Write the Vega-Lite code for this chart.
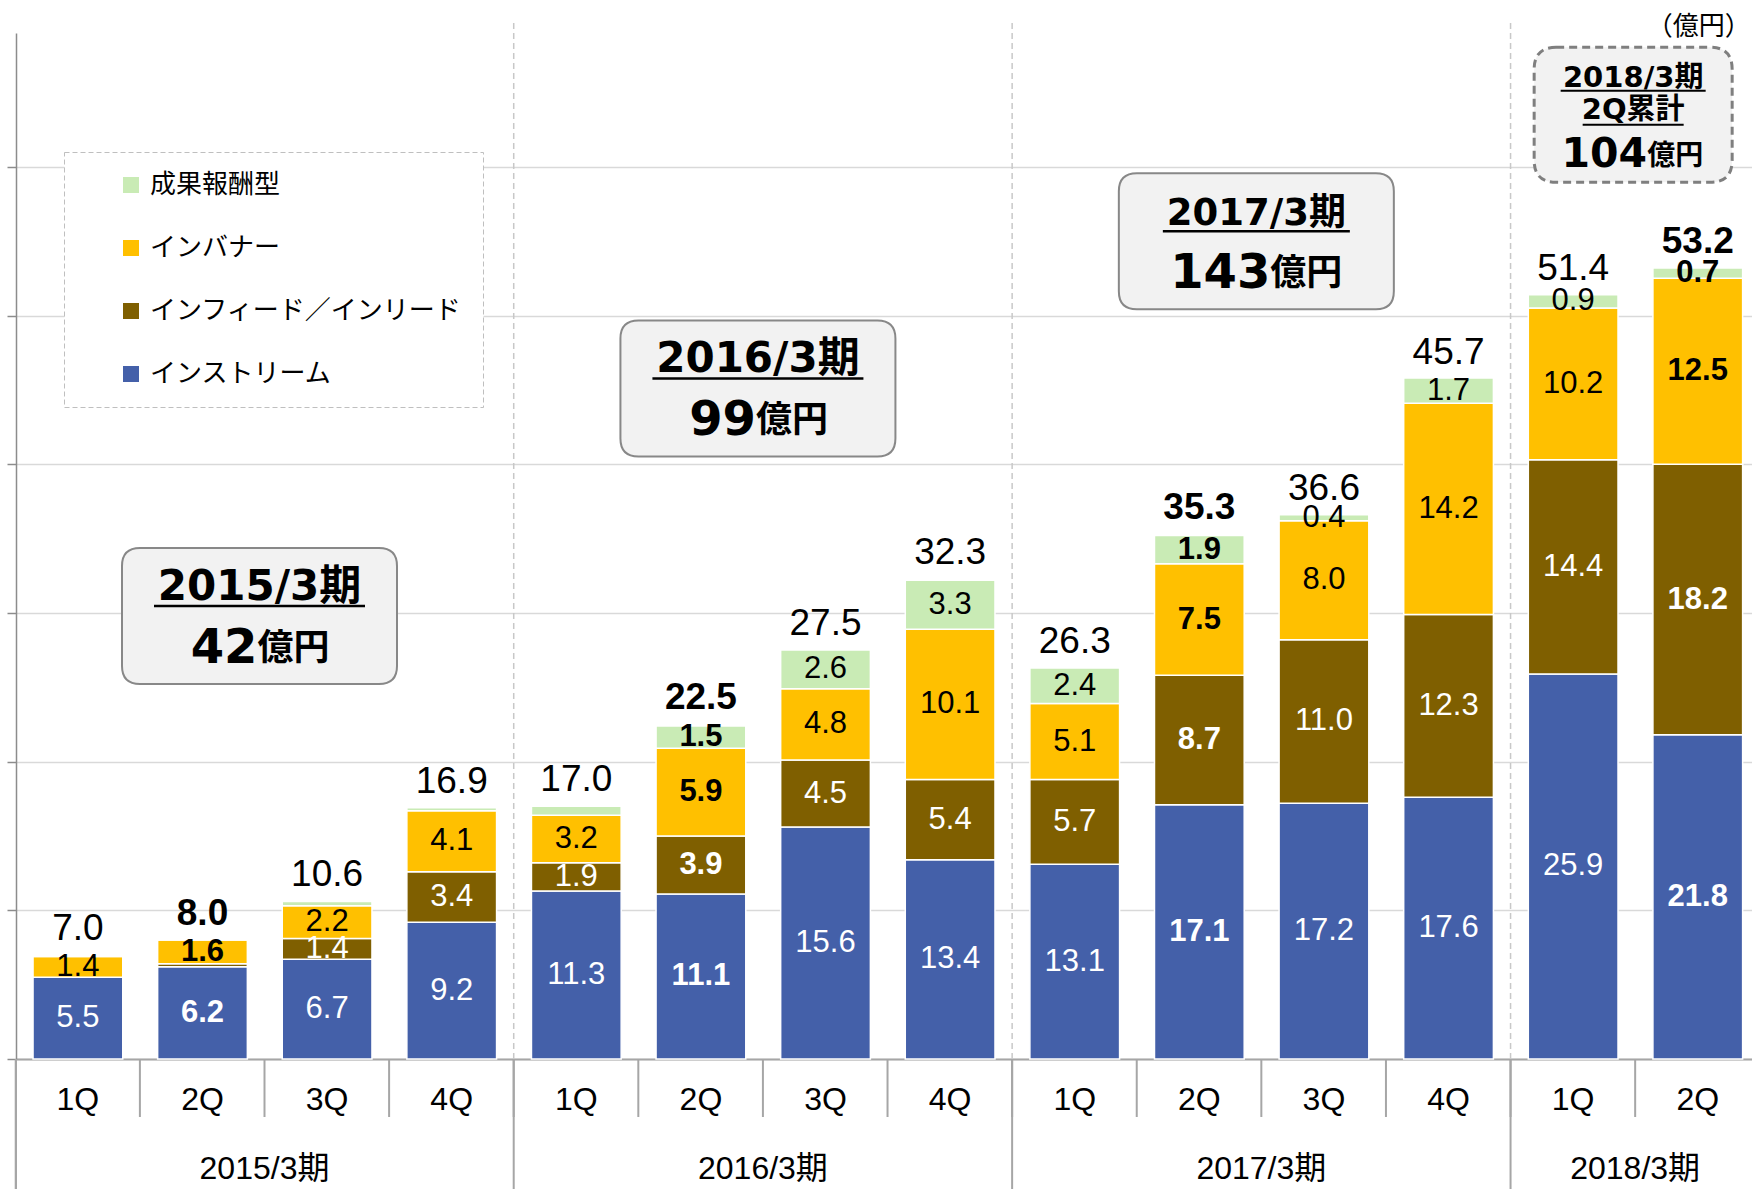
{
  "$schema": "https://vega.github.io/schema/vega-lite/v6.json",
  "width": 1736,
  "height": 1026,
  "autosize": {"type": "none"},
  "padding": {"left": 16, "top": 33, "right": 0, "bottom": 130},
  "config": {"view": {"stroke": null}, "axis": {"labelFont": "Liberation Sans"}, "legend": {"strokeDash": [5, 3]}},
  "datasets": {
    "q": [
      {"k": "2015/3期 1Q", "インストリーム": 5.5, "インフィード／インリード": 0.0, "インバナー": 1.4, "成果報酬型": 0.1},
      {"k": "2015/3期 2Q", "インストリーム": 6.2, "インフィード／インリード": 0.2, "インバナー": 1.6, "成果報酬型": 0.0},
      {"k": "2015/3期 3Q", "インストリーム": 6.7, "インフィード／インリード": 1.4, "インバナー": 2.2, "成果報酬型": 0.3},
      {"k": "2015/3期 4Q", "インストリーム": 9.2, "インフィード／インリード": 3.4, "インバナー": 4.1, "成果報酬型": 0.2},
      {"k": "2016/3期 1Q", "インストリーム": 11.3, "インフィード／インリード": 1.9, "インバナー": 3.2, "成果報酬型": 0.6},
      {"k": "2016/3期 2Q", "インストリーム": 11.1, "インフィード／インリード": 3.9, "インバナー": 5.9, "成果報酬型": 1.5},
      {"k": "2016/3期 3Q", "インストリーム": 15.6, "インフィード／インリード": 4.5, "インバナー": 4.8, "成果報酬型": 2.6},
      {"k": "2016/3期 4Q", "インストリーム": 13.4, "インフィード／インリード": 5.4, "インバナー": 10.1, "成果報酬型": 3.3},
      {"k": "2017/3期 1Q", "インストリーム": 13.1, "インフィード／インリード": 5.7, "インバナー": 5.1, "成果報酬型": 2.4},
      {"k": "2017/3期 2Q", "インストリーム": 17.1, "インフィード／インリード": 8.7, "インバナー": 7.5, "成果報酬型": 1.9},
      {"k": "2017/3期 3Q", "インストリーム": 17.2, "インフィード／インリード": 11.0, "インバナー": 8.0, "成果報酬型": 0.4},
      {"k": "2017/3期 4Q", "インストリーム": 17.6, "インフィード／インリード": 12.3, "インバナー": 14.2, "成果報酬型": 1.7},
      {"k": "2018/3期 1Q", "インストリーム": 25.9, "インフィード／インリード": 14.4, "インバナー": 10.2, "成果報酬型": 0.9},
      {"k": "2018/3期 2Q", "インストリーム": 21.8, "インフィード／インリード": 18.2, "インバナー": 12.5, "成果報酬型": 0.7}
    ],
    "tot": [
      {"k": "2015/3期 1Q", "t": 7.0},
      {"k": "2015/3期 2Q", "t": 8.0},
      {"k": "2015/3期 3Q", "t": 10.6},
      {"k": "2015/3期 4Q", "t": 16.9},
      {"k": "2016/3期 1Q", "t": 17.0},
      {"k": "2016/3期 2Q", "t": 22.5},
      {"k": "2016/3期 3Q", "t": 27.5},
      {"k": "2016/3期 4Q", "t": 32.3},
      {"k": "2017/3期 1Q", "t": 26.3},
      {"k": "2017/3期 2Q", "t": 35.3},
      {"k": "2017/3期 3Q", "t": 36.6},
      {"k": "2017/3期 4Q", "t": 45.7},
      {"k": "2018/3期 1Q", "t": 51.4},
      {"k": "2018/3期 2Q", "t": 53.2}
    ],
    "fy": [
      {"k": "2015/3期 2Q", "fy": "2015/3期"},
      {"k": "2016/3期 2Q", "fy": "2016/3期"},
      {"k": "2017/3期 2Q", "fy": "2017/3期"},
      {"k": "2018/3期 1Q", "fy": "2018/3期"}
    ],
    "sep": [
      {"k": "2015/3期 4Q"},
      {"k": "2016/3期 4Q"},
      {"k": "2017/3期 4Q"}
    ],
    "ann": [
      {"k": "2015/3期 2Q", "y": 29.8, "t": "2015/3期", "n": "42"},
      {"k": "2016/3期 2Q", "y": 45.1, "t": "2016/3期", "n": "99"},
      {"k": "2017/3期 2Q", "y": 55.0, "t": "2017/3期", "n": "143"}
    ],
    "ann18": [
      {"k": "2018/3期 1Q", "y": 63.5, "t1": "2018/3期", "t2": "2Q累計", "n": "104"}
    ],
    "unit": [
      {"k": "2018/3期 2Q", "u": "（億円）"}
    ]
  },
  "layer": [
    {
      "data": {"name": "sep"},
      "mark": {"type": "rule", "xOffset": 62, "color": "#C8C8C8", "strokeWidth": 1.5, "strokeDash": [6, 4]},
      "encoding": {
        "x": {"field": "k", "type": "nominal"},
        "y": {"datum": 0},
        "y2": {"datum": 69.7}
      }
    },
    {
      "data": {"name": "sep"},
      "mark": {"type": "rule", "xOffset": 62, "color": "#A6A6A6", "strokeWidth": 2},
      "encoding": {
        "x": {"field": "k", "type": "nominal"},
        "y": {"datum": -9},
        "y2": {"datum": 0}
      }
    },
    {
      "data": {"name": "sep"},
      "mark": {"type": "rule", "xOffset": -62, "color": "#A6A6A6", "strokeWidth": 2},
      "encoding": {
        "x": {"datum": "2015/3期 1Q"},
        "y": {"datum": -9},
        "y2": {"datum": 0}
      }
    },
    {
      "data": {"name": "tot"},
      "mark": {"type": "rule", "xOffset": 62, "color": "#A6A6A6", "strokeWidth": 2},
      "encoding": {
        "x": {"field": "k", "type": "nominal"},
        "y": {"datum": -3.9},
        "y2": {"datum": 0}
      }
    },
    {
      "data": {"name": "q"},
      "transform": [
        {"fold": ["インストリーム", "インフィード／インリード", "インバナー", "成果報酬型"], "as": ["s", "v"]},
        {"calculate": "indexof(['インストリーム','インフィード／インリード','インバナー','成果報酬型'], datum.s)", "as": "si"},
        {"stack": "v", "groupby": ["k"], "sort": [{"field": "si", "order": "ascending"}], "as": ["v0", "v1"]}
      ],
      "mark": {"type": "bar", "stroke": "#FFFFFF", "strokeWidth": 1.5},
      "encoding": {
        "x": {
          "field": "k", "type": "nominal",
          "scale": {"paddingInner": 0.28, "paddingOuter": 0.106, "align": 0.645},
          "axis": {
            "title": null, "labelExpr": "substring(datum.label, 8)", "labelAngle": 0, "labelAlign": "center",
            "labelFont": "Liberation Sans", "labelFontSize": 32, "labelColor": "#000000",
            "labelPadding": 25, "labelBaseline": "top", "labelOverlap": false,
            "ticks": false, "tickSize": 0,
            "domainColor": "#A6A6A6", "domainWidth": 2, "grid": false
          }
        },
        "y": {
          "field": "v1", "type": "quantitative",
          "scale": {"domain": [0, 69], "nice": false, "zero": true},
          "axis": {
            "title": null, "labels": false, "values": [0, 10, 20, 30, 40, 50, 60],
            "tickSize": 9, "tickColor": "#8C8C8C", "tickWidth": 1.5,
            "domainColor": "#8C8C8C", "domainWidth": 1.5,
            "grid": true, "gridColor": "#D9D9D9", "gridWidth": 1.5
          }
        },
        "y2": {"field": "v0"},
        "color": {
          "field": "s", "type": "nominal",
          "scale": {
            "domain": ["成果報酬型", "インバナー", "インフィード／インリード", "インストリーム"],
            "range": ["#C9EBB5", "#FFC000", "#7F5F00", "#4460A9"]
          },
          "legend": {
            "orient": "none", "legendX": 48, "legendY": 119, "title": null,
            "symbolType": "square", "symbolSize": 256, "symbolStrokeWidth": 0, "symbolOpacity": 1,
            "symbolOffset": 34, "labelOffset": 6,
            "labelFont": "Noto Sans CJK JP", "labelFontSize": 26, "labelColor": "#000000",
            "labelLimit": 500, "labelExpr": "datum.label + '　　'",
            "rowPadding": 37, "padding": 20,
            "strokeColor": "#BFBFBF", "fillColor": "#FFFFFF"
          }
        }
      }
    },
    {
      "data": {"name": "q"},
      "transform": [
        {"fold": ["インストリーム", "インフィード／インリード", "インバナー", "成果報酬型"], "as": ["s", "v"]},
        {"calculate": "indexof(['インストリーム','インフィード／インリード','インバナー','成果報酬型'], datum.s)", "as": "si"},
        {"stack": "v", "groupby": ["k"], "sort": [{"field": "si", "order": "ascending"}], "as": ["v0", "v1"]},
        {"filter": "datum.v >= 0.35 && !(datum.k == '2016/3期 1Q' && datum.s == '成果報酬型') && indexof(datum.k, '2Q') < 0"},
        {"calculate": "(datum.v0 + datum.v1) / 2", "as": "mid"}
      ],
      "mark": {"type": "text", "font": "Liberation Sans", "fontSize": 31, "baseline": "middle", "align": "center"},
      "encoding": {
        "x": {"field": "k", "type": "nominal"},
        "y": {"field": "mid", "type": "quantitative"},
        "text": {"field": "v", "type": "quantitative", "format": ".1f"},
        "color": {"condition": {"test": "datum.si < 2", "value": "#FFFFFF"}, "value": "#000000"}
      }
    },
    {
      "data": {"name": "q"},
      "transform": [
        {"fold": ["インストリーム", "インフィード／インリード", "インバナー", "成果報酬型"], "as": ["s", "v"]},
        {"calculate": "indexof(['インストリーム','インフィード／インリード','インバナー','成果報酬型'], datum.s)", "as": "si"},
        {"stack": "v", "groupby": ["k"], "sort": [{"field": "si", "order": "ascending"}], "as": ["v0", "v1"]},
        {"filter": "datum.v >= 0.35 && indexof(datum.k, '2Q') >= 0"},
        {"calculate": "(datum.v0 + datum.v1) / 2", "as": "mid"}
      ],
      "mark": {"type": "text", "font": "Liberation Sans", "fontSize": 31, "fontWeight": "bold", "baseline": "middle", "align": "center"},
      "encoding": {
        "x": {"field": "k", "type": "nominal"},
        "y": {"field": "mid", "type": "quantitative"},
        "text": {"field": "v", "type": "quantitative", "format": ".1f"},
        "color": {"condition": {"test": "datum.si < 2", "value": "#FFFFFF"}, "value": "#000000"}
      }
    },
    {
      "data": {"name": "tot"},
      "transform": [{"filter": "indexof(datum.k, '2Q') < 0"}],
      "mark": {"type": "text", "font": "Liberation Sans", "fontSize": 37, "baseline": "alphabetic", "align": "center", "dy": -15, "color": "#000000"},
      "encoding": {
        "x": {"field": "k", "type": "nominal"},
        "y": {"field": "t", "type": "quantitative"},
        "text": {"field": "t", "type": "quantitative", "format": ".1f"}
      }
    },
    {
      "data": {"name": "tot"},
      "transform": [{"filter": "indexof(datum.k, '2Q') >= 0"}],
      "mark": {"type": "text", "font": "Liberation Sans", "fontSize": 37, "fontWeight": "bold", "baseline": "alphabetic", "align": "center", "dy": -15, "color": "#000000"},
      "encoding": {
        "x": {"field": "k", "type": "nominal"},
        "y": {"field": "t", "type": "quantitative"},
        "text": {"field": "t", "type": "quantitative", "format": ".1f"}
      }
    },
    {
      "data": {"name": "fy"},
      "mark": {"type": "text", "font": "Liberation Sans, Noto Sans CJK JP", "fontSize": 32, "baseline": "middle", "align": "center", "dx": 62, "color": "#000000"},
      "encoding": {
        "x": {"field": "k", "type": "nominal"},
        "y": {"datum": -7.4},
        "text": {"field": "fy"}
      }
    },
    {
      "data": {"name": "unit"},
      "mark": {"type": "text", "font": "Noto Sans CJK JP", "fontSize": 26, "baseline": "middle", "align": "right", "dx": 53, "color": "#000000"},
      "encoding": {
        "x": {"field": "k", "type": "nominal"},
        "y": {"datum": 69.4},
        "text": {"field": "u"}
      }
    },
    {
      "data": {"name": "ann"},
      "mark": {"type": "point", "shape": "M-11.95,-6.8 L11.95,-6.8 Q13.75,-6.8 13.75,-5 L13.75,5 Q13.75,6.8 11.95,6.8 L-11.95,6.8 Q-13.75,6.8 -13.75,5 L-13.75,-5 Q-13.75,-6.8 -11.95,-6.8 Z", "size": 400, "filled": true, "fill": "#F2F2F2", "stroke": "#888888", "strokeWidth": 2, "opacity": 1, "xOffset": 57},
      "encoding": {
        "x": {"field": "k", "type": "nominal"},
        "y": {"field": "y", "type": "quantitative"}
      }
    },
    {
      "data": {"name": "ann"},
      "transform": [{"filter": "length(datum.n) == 2"}],
      "mark": {"type": "text", "font": "DejaVu Sans, Noto Sans CJK JP", "fontSize": 42, "fontWeight": "bold", "baseline": "alphabetic", "align": "center", "dx": 57, "dy": -16, "color": "#000000"},
      "encoding": {
        "x": {"field": "k", "type": "nominal"},
        "y": {"field": "y", "type": "quantitative"},
        "text": {"field": "t"}
      }
    },
    {
      "data": {"name": "ann"},
      "transform": [{"filter": "length(datum.n) == 3"}],
      "mark": {"type": "text", "font": "DejaVu Sans, Noto Sans CJK JP", "fontSize": 37, "fontWeight": "bold", "baseline": "alphabetic", "align": "center", "dx": 57, "dy": -16, "color": "#000000"},
      "encoding": {
        "x": {"field": "k", "type": "nominal"},
        "y": {"field": "y", "type": "quantitative"},
        "text": {"field": "t"}
      }
    },
    {
      "data": {"name": "ann"},
      "transform": [{"filter": "length(datum.n) == 2"}],
      "mark": {"type": "point", "shape": "M-1,0 L1,0", "size": 44521, "filled": false, "stroke": "#000000", "strokeWidth": 2.5, "opacity": 1, "xOffset": 57, "yOffset": -10},
      "encoding": {
        "x": {"field": "k", "type": "nominal"},
        "y": {"field": "y", "type": "quantitative"}
      }
    },
    {
      "data": {"name": "ann"},
      "transform": [{"filter": "length(datum.n) == 3"}],
      "mark": {"type": "point", "shape": "M-1,0 L1,0", "size": 34969, "filled": false, "stroke": "#000000", "strokeWidth": 2.5, "opacity": 1, "xOffset": 57, "yOffset": -10},
      "encoding": {
        "x": {"field": "k", "type": "nominal"},
        "y": {"field": "y", "type": "quantitative"}
      }
    },
    {
      "data": {"name": "ann"},
      "transform": [{"filter": "length(datum.n) == 2"}],
      "mark": {"type": "text", "font": "DejaVu Sans", "fontSize": 48, "fontWeight": "bold", "baseline": "alphabetic", "align": "right", "dx": 55, "dy": 47, "color": "#000000"},
      "encoding": {
        "x": {"field": "k", "type": "nominal"},
        "y": {"field": "y", "type": "quantitative"},
        "text": {"field": "n"}
      }
    },
    {
      "data": {"name": "ann"},
      "transform": [{"filter": "length(datum.n) == 3"}],
      "mark": {"type": "text", "font": "DejaVu Sans", "fontSize": 48, "fontWeight": "bold", "baseline": "alphabetic", "align": "right", "dx": 71, "dy": 47, "color": "#000000"},
      "encoding": {
        "x": {"field": "k", "type": "nominal"},
        "y": {"field": "y", "type": "quantitative"},
        "text": {"field": "n"}
      }
    },
    {
      "data": {"name": "ann"},
      "transform": [{"filter": "length(datum.n) == 2"}],
      "mark": {"type": "text", "font": "Noto Sans CJK JP", "fontSize": 36, "fontWeight": "bold", "baseline": "alphabetic", "align": "left", "dx": 55, "dy": 44, "color": "#000000", "text": "億円"},
      "encoding": {
        "x": {"field": "k", "type": "nominal"},
        "y": {"field": "y", "type": "quantitative"}
      }
    },
    {
      "data": {"name": "ann"},
      "transform": [{"filter": "length(datum.n) == 3"}],
      "mark": {"type": "text", "font": "Noto Sans CJK JP", "fontSize": 36, "fontWeight": "bold", "baseline": "alphabetic", "align": "left", "dx": 71, "dy": 44, "color": "#000000", "text": "億円"},
      "encoding": {
        "x": {"field": "k", "type": "nominal"},
        "y": {"field": "y", "type": "quantitative"}
      }
    },
    {
      "data": {"name": "ann18"},
      "mark": {"type": "point", "shape": "M-7.7,-6.75 L7.7,-6.75 Q9.9,-6.75 9.9,-4.55 L9.9,4.55 Q9.9,6.75 7.7,6.75 L-7.7,6.75 Q-9.9,6.75 -9.9,4.55 L-9.9,-4.55 Q-9.9,-6.75 -7.7,-6.75 Z", "size": 400, "filled": true, "fill": "#F2F2F2", "stroke": "#7F7F7F", "strokeWidth": 3, "strokeDash": [8, 5], "opacity": 1, "xOffset": 60},
      "encoding": {
        "x": {"field": "k", "type": "nominal"},
        "y": {"field": "y", "type": "quantitative"}
      }
    },
    {
      "data": {"name": "ann18"},
      "mark": {"type": "text", "font": "DejaVu Sans, Noto Sans CJK JP", "fontSize": 29, "fontWeight": "bold", "baseline": "alphabetic", "align": "center", "dx": 60, "dy": -28, "color": "#000000"},
      "encoding": {
        "x": {"field": "k", "type": "nominal"},
        "y": {"field": "y", "type": "quantitative"},
        "text": {"field": "t1"}
      }
    },
    {
      "data": {"name": "ann18"},
      "mark": {"type": "point", "shape": "M-1,0 L1,0", "size": 21025, "filled": false, "stroke": "#000000", "strokeWidth": 2, "opacity": 1, "xOffset": 60, "yOffset": -24},
      "encoding": {
        "x": {"field": "k", "type": "nominal"},
        "y": {"field": "y", "type": "quantitative"}
      }
    },
    {
      "data": {"name": "ann18"},
      "mark": {"type": "text", "font": "DejaVu Sans, Noto Sans CJK JP", "fontSize": 29, "fontWeight": "bold", "baseline": "alphabetic", "align": "center", "dx": 60, "dy": 4, "color": "#000000"},
      "encoding": {
        "x": {"field": "k", "type": "nominal"},
        "y": {"field": "y", "type": "quantitative"},
        "text": {"field": "t2"}
      }
    },
    {
      "data": {"name": "ann18"},
      "mark": {"type": "point", "shape": "M-1,0 L1,0", "size": 10201, "filled": false, "stroke": "#000000", "strokeWidth": 2, "opacity": 1, "xOffset": 60, "yOffset": 10},
      "encoding": {
        "x": {"field": "k", "type": "nominal"},
        "y": {"field": "y", "type": "quantitative"}
      }
    },
    {
      "data": {"name": "ann18"},
      "mark": {"type": "text", "font": "DejaVu Sans", "fontSize": 41, "fontWeight": "bold", "baseline": "alphabetic", "align": "right", "dx": 74, "dy": 52, "color": "#000000"},
      "encoding": {
        "x": {"field": "k", "type": "nominal"},
        "y": {"field": "y", "type": "quantitative"},
        "text": {"field": "n"}
      }
    },
    {
      "data": {"name": "ann18"},
      "mark": {"type": "text", "font": "Noto Sans CJK JP", "fontSize": 28, "fontWeight": "bold", "baseline": "alphabetic", "align": "left", "dx": 74, "dy": 50, "color": "#000000", "text": "億円"},
      "encoding": {
        "x": {"field": "k", "type": "nominal"},
        "y": {"field": "y", "type": "quantitative"}
      }
    }
  ]
}
